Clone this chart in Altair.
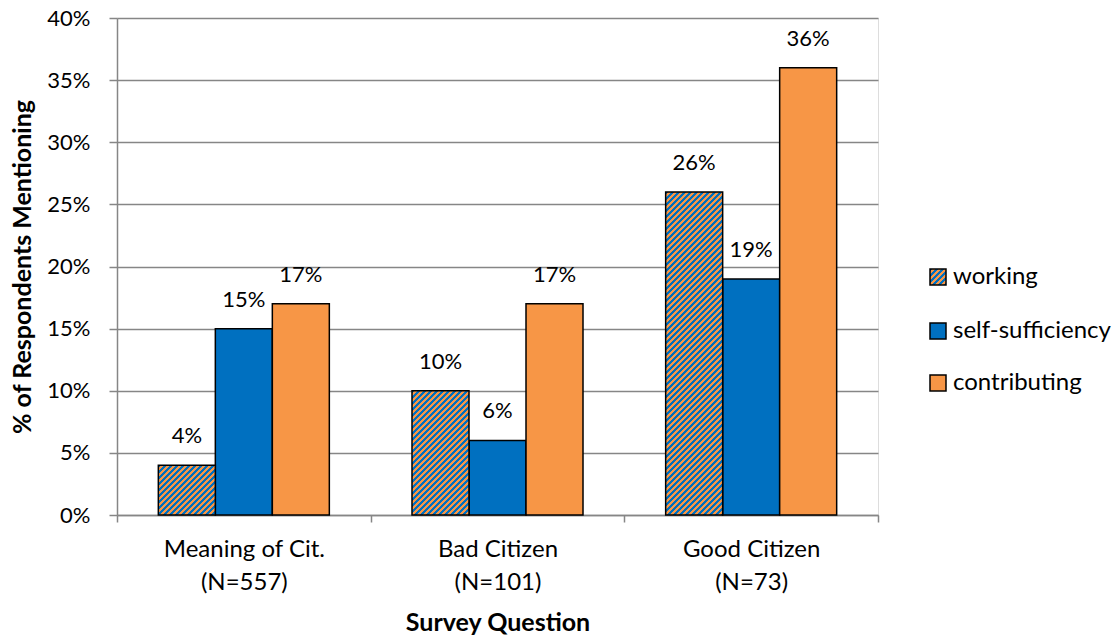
import altair as alt
import pandas as pd

# Survey questions, sample sizes and the three coded themes
questions = ["Meaning of Cit.", "Bad Citizen", "Good Citizen"]
sample_sizes = [557, 101, 73]
series = ["working", "self-sufficiency", "contributing"]

# Percent of respondents mentioning each theme, per question
working = [4, 10, 26]
self_sufficiency = [15, 6, 19]
contributing = [17, 17, 36]

BLUE = "#0070C0"
ORANGE = "#F79646"
GRID = "#868686"
FONT = "Lato"

W, H = 761, 497
Y_MAX = 40
OUTER = 0.725  # outer padding of the bar cluster inside each question band

labels = [f"{q}|(N={n})" for q, n in zip(questions, sample_sizes)]
rows = []
for name, vals in zip(series, [working, self_sufficiency, contributing]):
    for lab, v in zip(labels, vals):
        rows.append({"question": lab, "series": name, "pct": v})
df = pd.DataFrame(rows)

bar_w = (W / len(questions)) / (len(series) + 2 * OUTER)


def hatch(w, h, period=6.0):
    """Diagonal two-colour stripes as a linear gradient in bounding-box units."""
    span = w + h
    den = w * w + h * h
    stops = []
    pos, k = 0.0, 0
    half = period / 2
    while pos < span - 1e-9:
        c = BLUE if k % 2 == 0 else ORANGE
        stops.append(alt.GradientStop(color=c, offset=pos / span))
        stops.append(alt.GradientStop(color=c, offset=min(pos + half, span) / span))
        pos += half
        k += 1
    return alt.Gradient(gradient="linear", stops=stops,
                        x1=0, y1=0, x2=w * span / den, y2=h * span / den)


x_enc = alt.X(
    "question:N",
    sort=labels,
    scale=alt.Scale(domain=labels, paddingInner=0, paddingOuter=0),
    axis=alt.Axis(
        title="Survey Question",
        titleFont=FONT, titleFontSize=25, titleFontWeight="bold", titleColor="#000",
        titleX=W / 2, titleY=107, titleBaseline="middle",
        labelExpr="split(datum.label, '|')",
        labelFont=FONT, labelFontSize=24, labelColor="#000",
        labelLineHeight=33, labelPadding=15, labelAngle=0,
        tickBand="extent", tickSize=7, tickColor=GRID, tickWidth=1.5,
        domainColor=GRID, domainWidth=1.5, grid=False,
    ),
)
xoff_enc = alt.XOffset(
    "series:N",
    scale=alt.Scale(domain=series, paddingInner=0, paddingOuter=OUTER),
)
y_enc = alt.Y(
    "pct:Q",
    scale=alt.Scale(domain=[0, Y_MAX], nice=False),
    axis=alt.Axis(
        title="% of Respondents Mentioning",
        titleFont=FONT, titleFontSize=25, titleFontWeight="bold", titleColor="#000",
        titleX=-95, titleY=H / 2, titleBaseline="middle", titleAngle=270,
        values=list(range(0, Y_MAX + 1, 5)),
        labelExpr="datum.value + '%'",
        labelFont=FONT, labelFontSize=22, labelColor="#000", labelPadding=19,
        tickSize=8, tickColor=GRID, tickWidth=1.5,
        domainColor=GRID, domainWidth=1.5,
        grid=True, gridColor=GRID, gridWidth=1.5,
    ),
)

base = alt.Chart(df).encode(x=x_enc, xOffset=xoff_enc, y=y_enc)

solid_bars = base.transform_filter(
    alt.FieldOneOfPredicate(field="series", oneOf=series[1:])
).mark_bar(stroke="black", strokeWidth=1.5).encode(
    fill=alt.Fill("series:N",
                  scale=alt.Scale(domain=series[1:], range=[BLUE, ORANGE]),
                  legend=None)
)

layers = [solid_bars]

# Hatched bars, one per question, each with stripes sized to its own box
for lab, v in zip(labels, working):
    h = v / Y_MAX * H
    layers.append(
        base.transform_filter(
            (alt.datum.series == series[0]) & (alt.datum.question == lab)
        ).mark_bar(fill=hatch(bar_w, h), stroke="black", strokeWidth=1.5)
    )

value_labels = base.transform_calculate(
    txt="datum.pct + '%'"
).mark_text(
    font=FONT, fontSize=22, color="#000", baseline="middle", dy=-29
).encode(text="txt:N")
layers.append(value_labels)

# Legend entries to the right of the plot
leg_x = 813
leg_text_x = 836
leg_y = [259, 313, 365]
sym = 8
for i, name in enumerate(series):
    one = alt.Chart(pd.DataFrame({"series": [name]}))
    fill = hatch(2 * sym, 2 * sym, period=6.0) if i == 0 else [None, BLUE, ORANGE][i]
    layers.append(
        one.mark_rect(fill=fill, stroke="black", strokeWidth=1.5).encode(
            x=alt.value(leg_x), x2=alt.value(leg_x + 2 * sym),
            y=alt.value(leg_y[i] - sym), y2=alt.value(leg_y[i] + sym),
        )
    )
    layers.append(
        one.mark_text(font=FONT, fontSize=24, color="#000",
                      align="left", baseline="middle").encode(
            x=alt.value(leg_text_x), y=alt.value(leg_y[i]), text="series:N"
        )
    )

chart = alt.layer(*layers).properties(
    width=W, height=H,
    autosize=alt.AutoSizeParams(type="none"),
    padding={"left": 117, "top": 18, "right": 240, "bottom": 122},
).configure_view(stroke=None).configure(background="white")

chart.save("out.html", embed_options={"renderer": "svg", "actions": False})
